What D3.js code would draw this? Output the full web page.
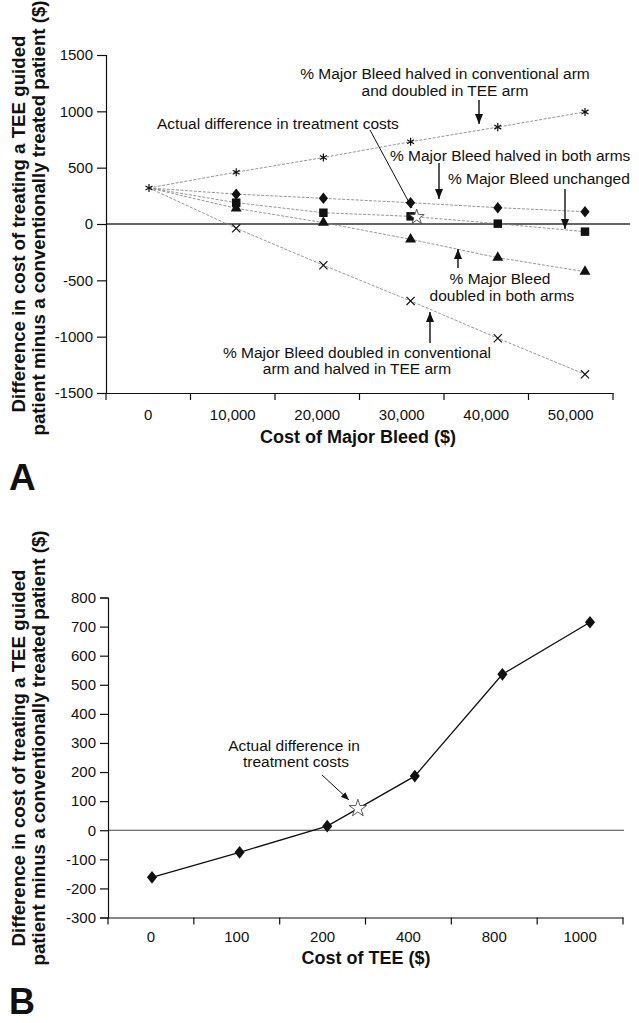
<!DOCTYPE html>
<html><head><meta charset="utf-8">
<script src="https://cdn.jsdelivr.net/npm/d3@7"></script>
<style>
body{margin:0;background:#fff}
svg{display:block}
text{font-family:"Liberation Sans",Arial,Helvetica,sans-serif;fill:#111}
</style>
</head><body>
<svg id="c" width="639" height="1023"></svg>
<script>
// ---------- Panel A data ----------
const bleedCosts  = [0, 10000, 20000, 30000, 40000, 50000];
const bleedLabels = ["0", "10,000", "20,000", "30,000", "40,000", "50,000"];
const halvedConvDoubledTee = [320, 460, 590, 730, 860, 995];
const halvedBoth           = [320, 265, 228, 189, 145, 109];
const unchangedBleed       = [320, 189, 100, 68, 3, -68];
const doubledBoth          = [320, 139, 12, -136, -299, -423];
const doubledConvHalvedTee = [320, -38, -366, -683, -1014, -1334];
const yTicksA = [-1500, -1000, -500, 0, 500, 1000, 1500];
const actualACost = 30700, actualADiff = 62;

// ---------- Panel B data ----------
const teeCosts  = [0, 100, 200, 400, 800, 1000];
const teeLabels = ["0", "100", "200", "400", "800", "1000"];
const teeDiff   = [-162, -76, 14, 186, 536, 715];
const yTicksB = [-300, -200, -100, 0, 100, 200, 300, 400, 500, 600, 700, 800];
const actualBCost = 270, actualBDiff = 75;

const svg = d3.select("#c");
const FONT = '"Liberation Sans",Arial,Helvetica,sans-serif';
const plainFmt = d => String(d);

const defs = svg.append("defs");
defs.append("marker").attr("id","ah").attr("markerUnits","userSpaceOnUse")
  .attr("viewBox","0 0 10 8").attr("markerWidth",10).attr("markerHeight",8)
  .attr("refX",10).attr("refY",4).attr("orient","auto")
  .append("path").attr("d","M0,0L10,4L0,8Z").attr("fill","#111");
defs.append("marker").attr("id","ahs").attr("markerUnits","userSpaceOnUse")
  .attr("viewBox","0 0 10 8").attr("markerWidth",8).attr("markerHeight",6.5)
  .attr("refX",10).attr("refY",4).attr("orient","auto")
  .append("path").attr("d","M0,0L10,4L0,8Z").attr("fill","#111");

const tallDiamond = {draw(ctx, size){ const h=Math.sqrt(size)*0.65, w=h*0.8;
  ctx.moveTo(0,-h); ctx.lineTo(w,0); ctx.lineTo(0,h); ctx.lineTo(-w,0); ctx.closePath(); }};

function arrow(g, x1,y1,x2,y2, small){
  g.append("line").attr("x1",x1).attr("y1",y1).attr("x2",x2).attr("y2",y2)
   .attr("stroke","#111").attr("stroke-width", small?1:1.4)
   .attr("marker-end", small?"url(#ahs)":"url(#ah)");
}
function txt(g, x, y, s, anchor, size){
  return g.append("text").attr("x",x).attr("y",y).attr("text-anchor",anchor||"middle")
   .style("font-size",(size||15.5)+"px").text(s);
}
function yTitle(g, cx1, cy1, cx2, cy2){
  g.append("text").attr("transform",`translate(${cx1},${cy1}) rotate(-90)`).attr("text-anchor","middle")
   .style("font-size","18.7px").style("font-weight","bold").text("Difference in cost of treating a TEE guided");
  g.append("text").attr("transform",`translate(${cx2},${cy2}) rotate(-90)`).attr("text-anchor","middle")
   .style("font-size","18.7px").style("font-weight","bold").text("patient minus a conventionally treated patient ($)");
}

// ================= PANEL A =================
const gA = svg.append("g");
const xA = d3.scaleLinear().domain([0, 50000]).range([149, 585]);
const bandA = d3.scaleBand().domain(bleedLabels).range([106, 613]);
const yA = d3.scaleLinear().domain([-1500, 1500]).range([393, 55]);

gA.append("line").attr("x1",106).attr("x2",630).attr("y1",yA(0)).attr("y2",yA(0))
  .attr("stroke","#333").attr("stroke-width",1.6);

const yAxA = gA.append("g").attr("transform","translate(106,0)")
  .call(d3.axisLeft(yA).tickValues(yTicksA).tickSize(9).tickPadding(4).tickFormat(plainFmt));
const xAxA = gA.append("g").attr("transform",`translate(0,393)`)
  .call(d3.axisBottom(bandA).tickSize(0).tickPadding(16));
xAxA.selectAll(".tick line").remove();
xAxA.selectAll(".tickEdge").data(d3.range(bleedLabels.length+1)).enter().append("line")
  .attr("x1",i=>bandA.range()[0]+i*bandA.step()).attr("x2",i=>bandA.range()[0]+i*bandA.step())
  .attr("y1",0).attr("y2",7).attr("stroke","#111");
[yAxA, xAxA].forEach(a=>{ a.selectAll("text").style("font-size","15px").style("font-family",FONT).attr("fill","#111");
  a.selectAll("path,line").attr("stroke","#111").attr("stroke-width",1.2); });

const seriesA = [
  {vals: halvedConvDoubledTee, sym: d3.symbolAsterisk, size: 45, fill:"none", stroke:"#111", first:true},
  {vals: halvedBoth, sym: tallDiamond, size: 78, fill:"#111", stroke:"none"},
  {vals: unchangedBleed, sym: d3.symbolSquare, size: 72, fill:"#111", stroke:"none"},
  {vals: doubledBoth, sym: d3.symbolTriangle, size: 52, fill:"#111", stroke:"none"},
  {vals: doubledConvHalvedTee, sym: d3.symbolTimes, size: 45, fill:"none", stroke:"#111"}
];
const lineA = d3.line().x((d,i)=>xA(bleedCosts[i])).y(d=>yA(d));
seriesA.forEach(s=>{
  gA.append("path").attr("d", lineA(s.vals)).attr("fill","none")
    .attr("stroke","#8a8a8a").attr("stroke-width",0.9).attr("stroke-dasharray","3,1.5");
});
seriesA.forEach(s=>{
  gA.selectAll(null).data(s.vals.map((v,i)=>({v,i})).filter(d=>s.first || d.i>0)).enter().append("path")
    .attr("transform",d=>`translate(${xA(bleedCosts[d.i])},${yA(d.v)})`)
    .attr("d", d3.symbol().type(s.sym).size(s.size))
    .attr("fill", s.fill).attr("stroke", s.stroke).attr("stroke-width",1.2);
});
gA.append("path").attr("transform",`translate(${xA(actualACost)},${yA(actualADiff)})`)
  .attr("d", d3.symbol().type(d3.symbolStar).size(70)).attr("fill","#fff").attr("stroke","#333").attr("stroke-width",0.8);

txt(gA, 445, 79, "% Major Bleed halved in conventional arm");
txt(gA, 445, 96, "and doubled in TEE arm");
arrow(gA, 479, 100, 479, 124);
txt(gA, 157, 129, "Actual difference in treatment costs", "start");
arrow(gA, 370, 130, 412, 208, true);
txt(gA, 390, 161, "% Major Bleed halved in both arms", "start");
arrow(gA, 439, 163, 439, 199);
txt(gA, 448, 184, "% Major Bleed unchanged", "start");
arrow(gA, 565, 189, 565, 229);
arrow(gA, 458, 268, 458, 249);
txt(gA, 500, 284, "% Major Bleed");
txt(gA, 502, 301, "doubled in both arms");
arrow(gA, 430, 343, 430, 312);
txt(gA, 357, 358, "% Major Bleed doubled in conventional");
txt(gA, 357, 374, "arm and halved in TEE arm");

yTitle(gA, 25, 224, 45, 218);
gA.append("text").attr("x",358).attr("y",443).attr("text-anchor","middle")
  .style("font-size","18px").style("font-weight","bold").text("Cost of Major Bleed ($)");
gA.append("text").attr("x",9).attr("y",490).style("font-size","37px").style("font-weight","bold").text("A");

// ================= PANEL B =================
const gB = svg.append("g");
const bandB = d3.scaleBand().domain(teeLabels).range([108, 623]);
const xB = d3.scaleLinear().domain(teeCosts).range(d3.range(teeCosts.length).map(i=>152 + i*87.6));
const yB = d3.scaleLinear().domain([-300, 800]).range([917.5, 597.5]);

gB.append("line").attr("x1",108).attr("x2",624).attr("y1",yB(0)).attr("y2",yB(0))
  .attr("stroke","#444").attr("stroke-width",1.1);

const yAxB = gB.append("g").attr("transform","translate(108,0)")
  .call(d3.axisLeft(yB).tickValues(yTicksB).tickSize(8).tickPadding(4).tickFormat(plainFmt));
const xAxB = gB.append("g").attr("transform","translate(0,917.5)")
  .call(d3.axisBottom(bandB).tickSize(0).tickPadding(14));
xAxB.selectAll(".tick line").remove();
xAxB.selectAll(".tickEdge").data(d3.range(teeLabels.length+1)).enter().append("line")
  .attr("x1",i=>bandB.range()[0]+i*bandB.step()).attr("x2",i=>bandB.range()[0]+i*bandB.step())
  .attr("y1",0).attr("y2",7).attr("stroke","#111");
[yAxB, xAxB].forEach(a=>{ a.selectAll("text").style("font-size","15px").style("font-family",FONT).attr("fill","#111");
  a.selectAll("path,line").attr("stroke","#111").attr("stroke-width",1.2); });

const lineB = d3.line().x((d,i)=>xB(teeCosts[i])).y(d=>yB(d));
gB.append("path").attr("d", lineB(teeDiff)).attr("fill","none").attr("stroke","#111").attr("stroke-width",1.3);
gB.selectAll(null).data(teeDiff).enter().append("path")
  .attr("transform",(d,i)=>`translate(${xB(teeCosts[i])},${yB(d)})`)
  .attr("d", d3.symbol().type(tallDiamond).size(95)).attr("fill","#111");
gB.append("path").attr("transform",`translate(${xB(actualBCost)},${yB(actualBDiff)})`)
  .attr("d", d3.symbol().type(d3.symbolStar).size(95)).attr("fill","#fff").attr("stroke","#333").attr("stroke-width",0.8);

txt(gB, 294, 751, "Actual difference in");
txt(gB, 296, 767, "treatment costs");
arrow(gB, 322, 775, 349, 800, true);

yTitle(gB, 25, 758, 45, 748);
gB.append("text").attr("x",366).attr("y",964).attr("text-anchor","middle")
  .style("font-size","18px").style("font-weight","bold").text("Cost of TEE ($)");
gB.append("text").attr("x",9).attr("y",1014).style("font-size","36px").style("font-weight","bold").text("B");
</script>
</body></html>
